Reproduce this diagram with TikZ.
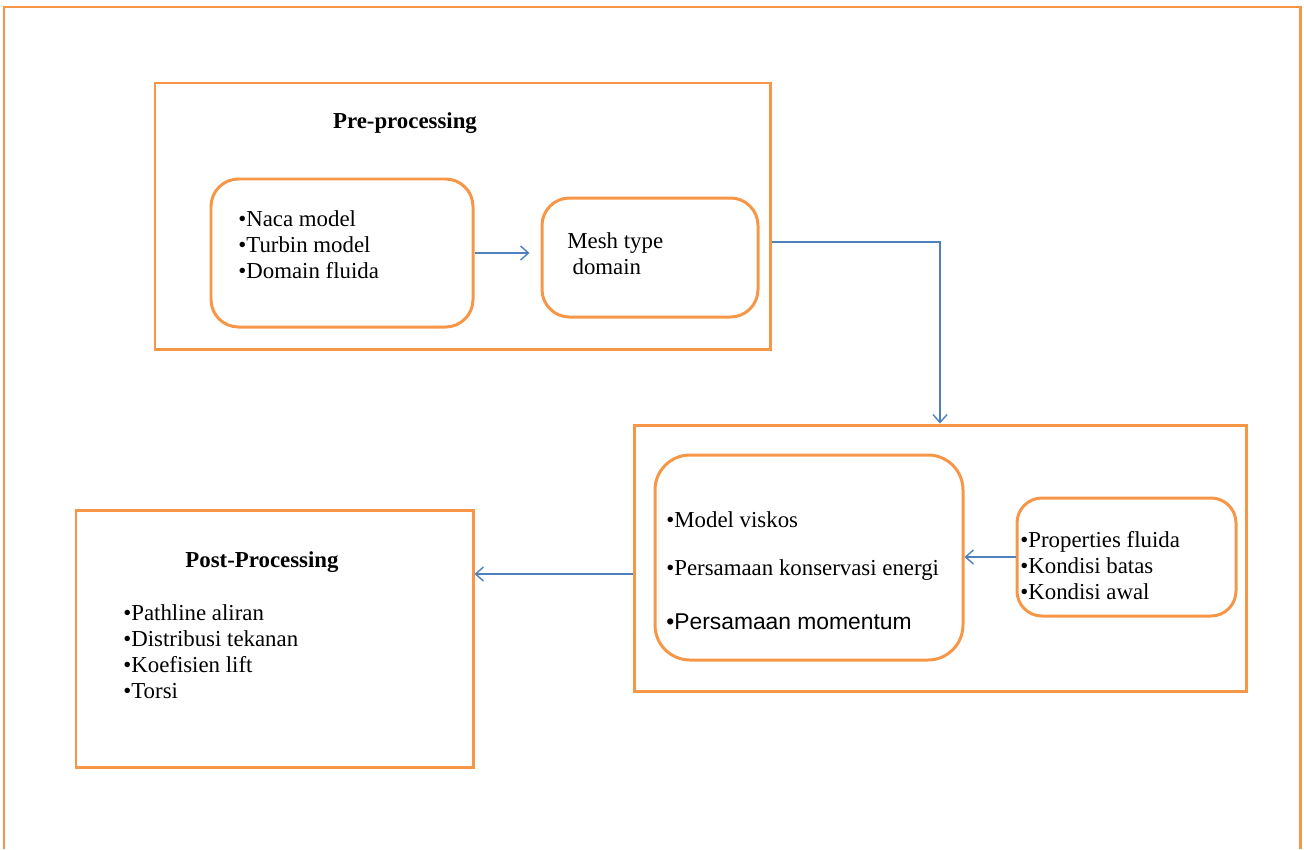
\documentclass[tikz,border=0pt]{standalone}
\usepackage{fontspec}
\setmainfont{Liberation Serif}
\newfontfamily\arialfont{Liberation Sans}
\usetikzlibrary{arrows.meta,calc,fit}
\definecolor{boxorange}{HTML}{F79646}
\definecolor{flowblue}{HTML}{4F81BD}
\tikzset{
	stage/.style={draw=boxorange,line width=1.7pt,inner sep=0pt},
	group/.style={stage,rounded corners=0.55cm},
	txt/.style={anchor=west,inner sep=0pt,align=left,font=\fontsize{13}{14.8}\selectfont},
	heading/.style={inner sep=0pt,font=\fontsize{13}{14.8}\selectfont\bfseries},
	flow/.style={draw=flowblue,line width=0.8pt,-{Straight Barb[length=4.5pt,width=8pt]}}
}

\begin{document}
\begin{tikzpicture}[x=0.02cm,y=-0.02cm]
		\useasboundingbox (0,0) rectangle (1304,849);
		\draw[boxorange,line width=1.7pt] (4,849) -- (4,7) -- (1300,7) -- (1300,849);
		% pre-processing
		\node[stage,fit={(155,83) (770,349)}] (pre) {};
		\node[heading] (pretitle) at (405,123) {Pre-processing};
		\node[group,fit={(211,179) (473,327)}] (models) {};
		\node[txt] (modeltxt) at (238,245) {•Naca model\\•Turbin model\\•Domain fluida};
		\node[group,fit={(542,198) (758,317)}] (mesh) {};
		\node[txt] (meshtxt) at (567,254) {Mesh type\\\hspace*{3pt}domain};
		% solver
		\node[stage,fit={(634,425) (1246,691)}] (solver) {};
		\node[group,rounded corners=0.7cm,fit={(655,455) (963,660)}] (core) {};
		\node[txt] (viskos) at (666,520) {•Model viskos};
		\node[txt] (energi) at (666,570) {•Persamaan konservasi energi};
		\node[txt,font=\fontsize{13}{14.8}\arialfont] (momentum) at (666,622) {•Persamaan momentum};
		\node[group,rounded corners=0.5cm,fit={(1017,498) (1236,616)}] (props) {};
		\node[txt] (proptxt) at (1020,566) {•Properties fluida\\•Kondisi batas\\•Kondisi awal};
		% post-processing
		\node[stage,fit={(76,510) (473,767)}] (post) {};
		\node[heading] (posttitle) at (262,562) {Post-Processing};
		\node[txt] (posttxt) at (123,652) {•Pathline aliran\\•Distribusi tekanan\\•Koefisien lift\\•Torsi};
		\draw[flow,shorten >=0.22cm] (models) -- (models.east -| mesh.west);
		\draw[flow] ($(pre.east)+(0,26)$) -| (solver.north);
		\draw[flow] (props) -- (props.west -| core.east);
		\draw[flow] ($(solver.west)+(0,16)$) coordinate (out) -- (out -| post.east);
\end{tikzpicture}
\end{document}
